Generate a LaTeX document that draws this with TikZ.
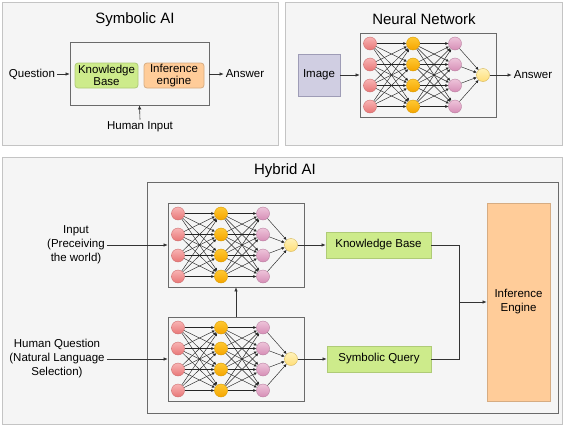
\documentclass[tikz,border=0pt]{standalone}
\usepackage{fontspec}
\setmainfont{Liberation Sans}
\usetikzlibrary{arrows.meta}
\definecolor{panelbg}{HTML}{F5F5F5}
\definecolor{panelborder}{HTML}{C4C4C4}
\definecolor{framegray}{HTML}{6A6A6A}
\definecolor{linegray}{HTML}{333333}
\definecolor{kbgreen}{HTML}{CDEB8B}
\definecolor{kbborder}{HTML}{AFCB77}
\definecolor{ieorange}{HTML}{FFCC99}
\definecolor{ieborder}{HTML}{D6AC82}
\definecolor{imgfill}{HTML}{D0CEE2}
\definecolor{imgborder}{HTML}{9E9CB6}
\tikzset{
  panel/.style={draw=panelborder, fill=panelbg, line width=0.8pt},
  frame/.style={draw=framegray, line width=0.7pt},
  lbl/.style={font=\fontsize{11.5}{14}\selectfont, align=center, inner sep=2pt},
  ttl/.style={font=\fontsize{15}{18}\selectfont, inner sep=0pt},
  arr/.style={draw=linegray, line width=0.6pt, -{Latex[length=4pt,width=3.5pt]}},
  plainline/.style={draw=linegray, line width=0.6pt},
  nedge/.style={draw=black!85, line width=0.45pt, -{Latex[length=3pt,width=3pt]}},
  neuron/.style={circle, minimum size=13pt, inner sep=0pt, line width=0.4pt},
  nA/.style={neuron, top color={rgb,255:red,248;green,180;blue,180}, bottom color={rgb,255:red,232;green,118;blue,118}, draw={rgb,255:red,205;green,110;blue,110}},
  nB/.style={neuron, top color={rgb,255:red,255;green,200;blue,50}, bottom color={rgb,255:red,245;green,165;blue,0}, draw={rgb,255:red,215;green,155;blue,0}},
  nC/.style={neuron, top color={rgb,255:red,238;green,196;blue,218}, bottom color={rgb,255:red,214;green,142;blue,182}, draw={rgb,255:red,185;green,127;blue,160}},
  nO/.style={neuron, top color={rgb,255:red,255;green,242;blue,185}, bottom color={rgb,255:red,255;green,222;blue,120}, draw={rgb,255:red,214;green,182;blue,86}},
  kbbox/.style={fill=kbgreen, draw=kbborder, line width=0.8pt, font=\fontsize{11.5}{14}\selectfont, align=center, inner sep=0pt},
  iebox/.style={fill=ieorange, draw=ieborder, line width=0.8pt, font=\fontsize{11.5}{14}\selectfont, align=center, inner sep=0pt},
  pics/nnet/.style={code={
    \node[frame, minimum width=136pt, minimum height=84pt, inner sep=0pt] (-box) at (68,42) {};
    \foreach \i/\yy in {1/10.5,2/31.5,3/52.5,4/73.5}{
      \node[nA] (-a\i) at (10,\yy) {};
      \node[nB] (-b\i) at (53,\yy) {};
      \node[nC] (-c\i) at (95,\yy) {};
    }
    \node[nO] (-o) at (123,42) {};
    \foreach \i in {1,...,4}{
      \foreach \j in {1,...,4}{
        \draw[nedge] (-a\i) -- (-b\j);
        \draw[nedge] (-b\i) -- (-c\j);
      }
      \draw[nedge] (-c\i) -- (-o);
    }
  }}
}
\begin{document}
\begin{tikzpicture}[x=1pt,y=-1pt]
\useasboundingbox (0,0) rectangle (565,426);
% panels
\draw[panel] (2,2) rectangle (278,145);
\draw[panel] (285,2) rectangle (562,145);
\draw[panel] (2,157) rectangle (562,424);

% ---------- Symbolic AI ----------
\node[ttl] (t1) at (135,20) {Symbolic AI};
\node[frame, minimum width=139pt, minimum height=63pt, inner sep=0pt] (sym) at (139.5,73.5) {};
\node[kbbox, rounded corners=3pt, minimum width=63pt, minimum height=25pt] (skb) at (106.5,75.5) {Knowledge\\[-1.5pt]Base};
\node[iebox, rounded corners=3pt, minimum width=60pt, minimum height=25pt] (sie) at (174,75.5) {Inference\\[-1.5pt]engine};
\node[lbl] (q) at (32,74) {Question};
\node[lbl] (sa) at (245,74) {Answer};
\node[lbl] (hi) at (140,127) {Human Input};
\draw[arr] (q.east) -- (sym.west |- q.east);
\draw[arr] (sym.east |- sa.west) -- (sa.west);
\draw[arr] (hi.north) -- (sym.south);

% ---------- Neural Network ----------
\node[ttl] (t2) at (424,19) {Neural Network};
\node[fill=imgfill, draw=imgborder, line width=0.8pt, minimum width=42pt, minimum height=42pt, inner sep=0pt, font=\fontsize{11.5}{14}\selectfont] (img) at (319,75) {Image};
\pic (nn) at (360,33) {nnet};
\node[lbl] (na) at (533,75) {Answer};
\draw[arr] (img.east) -- (nn-box.west |- img.east);
\draw[arr] (nn-o) -- (na.west);

% ---------- Hybrid AI ----------
\node[ttl] (t3) at (285,171) {Hybrid AI};
\node[frame, minimum width=411pt, minimum height=231pt, inner sep=0pt] (hyb) at (352.5,297.5) {};
\pic (na1) at (168,203) {nnet};
\pic (na2) at (168,317) {nnet};
\node[kbbox, minimum width=105pt, minimum height=26pt] (kb) at (378.5,245) {Knowledge Base};
\node[kbbox, minimum width=104pt, minimum height=26pt] (sq) at (379,359) {Symbolic Query};
\node[iebox, minimum width=63pt, minimum height=198pt] (ie) at (518.5,302) {Inference\\Engine};
\node[lbl] (inp) at (76,245) {Input\\(Preceiving\\the world)};
\node[lbl] (hq) at (57,359) {Human Question\\(Natural Language\\Selection)};
\draw[arr] (inp.east) -- (na1-box.west |- inp.east);
\draw[arr] (hq.east) -- (na2-box.west |- hq.east);
\draw[arr] (na2-box.north) -- (na1-box.south);
\draw[arr] (na1-o) -- (kb.west);
\draw[arr] (na2-o) -- (sq.west);
\coordinate (jn) at (459,302);
\draw[plainline] (kb.east) -| (jn);
\draw[plainline] (sq.east) -| (jn);
\draw[arr] (jn) -- (ie.west);
\end{tikzpicture}
\end{document}
